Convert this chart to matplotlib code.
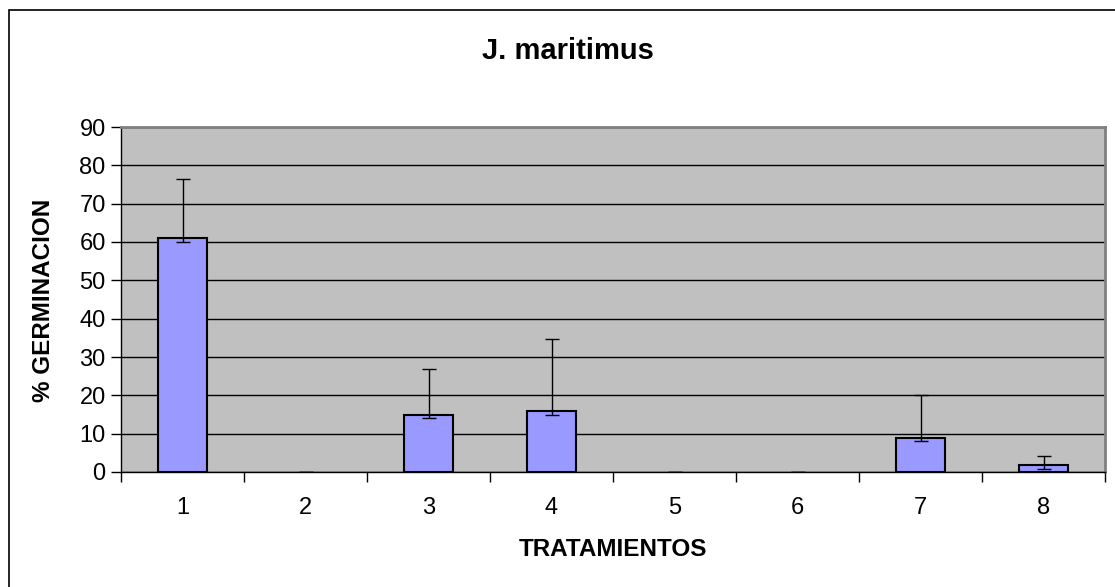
import numpy as np
import matplotlib.pyplot as plt
from matplotlib.patches import Rectangle

plt.rcParams['font.family'] = ['Liberation Sans', 'DejaVu Sans']

# data
tratamientos = ['1', '2', '3', '4', '5', '6', '7', '8']
germinacion = [61, 0, 15, 16, 0, 0, 9, 1.8]
err_low = [1, 0, 1, 1, 0, 0, 1, 1]
err_high = [15.5, 0, 12, 18.8, 0, 0, 11.2, 2.4]

W, H = 1115, 587
fig = plt.figure(figsize=(W / 100, H / 100), dpi=100)
fig.patch.set_facecolor('white')

# outer chart frame (left and top edges visible only)
fig.add_artist(Rectangle((9 / W, -0.1), 1.2, 1 - 10 / H + 0.1, transform=fig.transFigure,
                         fill=False, edgecolor='black', linewidth=1.2))

ax = fig.add_axes([121 / W, 1 - 472 / H, (1105 - 121) / W, (472 - 127) / H])
ax.set_facecolor('#C0C0C0')

x = np.arange(len(tratamientos))
edges = ['black' if v > 0 else 'none' for v in germinacion]
ax.bar(x, germinacion, width=0.4, color='#9999FF', edgecolor=edges, linewidth=1.5, zorder=3)
ax.errorbar(x, germinacion, yerr=[err_low, err_high], fmt='none', ecolor='black',
            elinewidth=1, capsize=5, capthick=1, zorder=4)

ax.set_xlim(-0.5, len(tratamientos) - 0.5)
ax.set_ylim(0, 90)
ax.set_yticks(np.arange(0, 91, 10))
ax.yaxis.grid(True, color='black', linewidth=1)
ax.set_axisbelow(True)

ax.set_xticks(x)
ax.set_xticklabels(tratamientos)
ax.set_xticks(np.arange(-0.5, len(tratamientos), 1), minor=True)
ax.tick_params(axis='x', which='major', length=0, pad=18, labelsize=17)
ax.tick_params(axis='x', which='minor', length=7, width=1, color='black')
ax.tick_params(axis='y', length=7, width=1, pad=4, labelsize=17)

for s in ['top', 'right']:
    ax.spines[s].set_color('#808080')
    ax.spines[s].set_linewidth(2)
for s in ['left', 'bottom']:
    ax.spines[s].set_color('black')
    ax.spines[s].set_linewidth(1)

fig.text(568 / W, 1 - 51 / H, 'J. maritimus', ha='center', va='center',
         fontsize=21, fontweight='bold')
fig.text(613 / W, 1 - 550 / H, 'TRATAMIENTOS', ha='center', va='center',
         fontsize=17.5, fontweight='bold')
fig.text(44 / W, 1 - 300 / H, '% GERMINACION', ha='center', va='center',
         rotation=90, fontsize=17.5, fontweight='bold')

plt.savefig('out.png', dpi=100)
